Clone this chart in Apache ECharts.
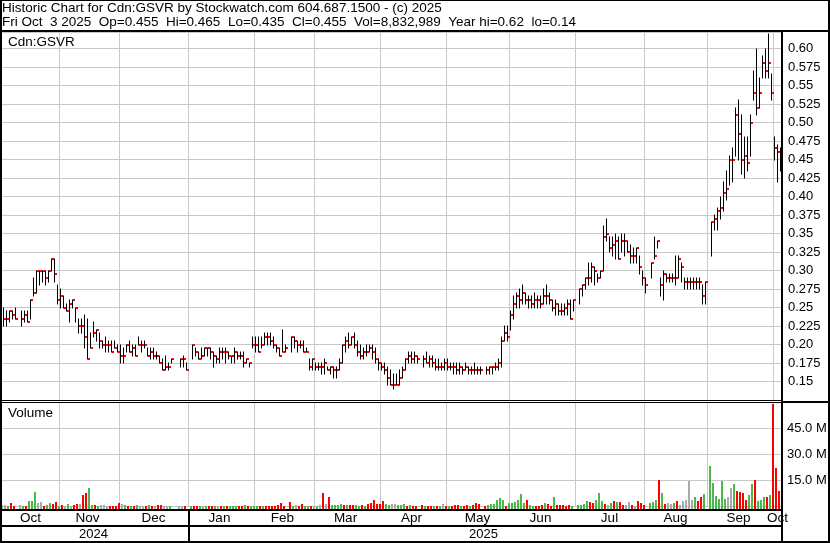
<!DOCTYPE html>
<html><head><meta charset="utf-8"><title>Cdn:GSVR</title>
<script src="https://cdn.jsdelivr.net/npm/echarts@6/dist/echarts.min.js"></script>
<style>html,body{margin:0;padding:0;background:#fff;}#chart{width:830px;height:543px;}</style>
</head><body><div id="chart"></div>
<script>
// ---------------- data (one slot per weekday, null = no trade / holiday) ----------------
const firstDate = '2024-10-07';
const lastDate  = '2025-10-03';

const highs = [
 // Oct 2024
 .25,.245,.245,.245,.25,null,.245,.245,.245,.26,.29,.30,.30,.30,.30,.30,.315,.315,.28,
 // Nov
 .275,.265,.255,.26,.26,.25,.235,.235,.24,.235,.215,.23,.22,.215,.205,.21,.205,.205,.205,.20,.20,
 // Dec
 .195,.20,.205,.20,.20,.21,.205,.205,.195,.195,.195,.19,.185,.18,.185,.175,.18,null,null,.18,.185,.175,
 // Jan 2025
 null,.20,.195,.19,.195,.195,.195,.195,.19,.185,.195,.195,.195,.19,.185,.195,.19,.19,.19,.18,.175,.21,.21,
 // Feb
 .21,.21,.215,.215,.215,.21,.20,.195,.22,.20,null,.21,.21,.205,.205,.205,.195,.18,.18,.175,
 // Mar
 .175,.175,.18,.17,.17,.17,.17,.18,.20,.21,.215,.21,.215,.205,.20,.195,.20,.20,.20,.195,.18,
 // Apr
 .175,.175,.17,.165,.16,.16,.165,.17,.18,.19,.19,.19,.185,null,.185,.19,.185,.185,.18,.18,.175,.18,
 // May
 .18,.175,.175,.175,.175,.17,.175,.17,.17,.175,.17,.17,null,.17,.17,.17,.175,.18,.21,.225,.225,.245,
 // Jun
 .265,.27,.275,.28,.27,.265,.265,.27,.265,.265,.275,.28,.27,.26,.26,.255,.255,.255,.26,.26,.26,
 // Jul
 null,.275,.28,.29,.31,.31,.305,.295,.30,.36,.37,.345,.345,.35,.345,.35,.35,.34,.335,.33,.33,.32,.30,
 // Aug
 .29,null,.31,.345,.34,.29,.30,.295,.295,.295,.32,.32,.31,.29,.29,.29,.29,.29,.29,.28,.285,
 // Sep
 null,.365,.375,.385,.40,.42,.435,.455,.465,.52,.53,.51,.48,.48,.51,.57,.60,.56,.59,.60,.62,.565,
 // Oct
 .48,.47,.465
];
const lows = [
 .225,.225,.23,.235,.235,null,.225,.23,.23,.235,.265,.27,.28,.285,.28,.285,.30,.285,.255,
 .25,.25,.245,.23,.25,.23,.215,.215,.195,.18,.195,.21,.205,.195,.195,.19,.19,.19,.195,.19,.175,
 .175,.19,.19,.185,.185,.20,.19,.195,.185,.18,.18,.18,.175,.165,.165,.165,.175,null,null,.17,.17,.165,
 null,.18,.185,.18,.18,.185,.185,.18,.17,.175,.175,.18,.175,.18,.175,.175,.18,.18,.17,.175,.17,.195,.19,
 .19,.195,.20,.20,.20,.195,.19,.185,.19,.19,null,.19,.195,.19,.195,.19,.19,.165,.165,.165,
 .165,.16,.16,.165,.16,.155,.155,.165,.175,.19,.195,.20,.195,.185,.18,.18,.185,.19,.18,.175,.165,
 .165,.16,.145,.145,.14,.145,.145,.155,.165,.175,.175,.175,.175,null,.17,.175,.17,.17,.165,.165,.165,.165,
 .165,.165,.16,.16,.16,.16,.165,.16,.16,.16,.16,.16,null,.16,.16,.16,.165,.165,.17,.205,.205,.22,
 .235,.25,.25,.255,.255,.25,.25,.25,.25,.25,.255,.255,.255,.245,.24,.24,.24,.24,.24,.235,.245,
 null,.255,.265,.275,.28,.285,.28,.285,.29,.30,.34,.325,.32,.315,.315,.325,.32,.325,.31,.31,.31,.295,.28,
 .27,null,.29,.315,.33,.265,.26,.285,.285,.285,.28,.29,.285,.275,.275,.275,.275,.275,.275,.255,.255,
 null,.32,.355,.355,.37,.38,.395,.415,.42,.455,.45,.43,.425,.435,.455,.53,.51,.52,.56,.56,.56,.53,
 .45,.42,.435
];
const closes = [
 .235,.235,.245,.24,.235,null,.235,.24,.23,.26,.27,.30,.30,.30,.29,.30,.315,.295,.26,
 .265,.25,.245,.255,.26,.25,.225,.225,.21,.18,.195,.215,.22,.205,.20,.20,.20,.19,.195,.19,.185,
 .185,.20,.19,.195,.185,.20,.20,.20,.185,.19,.185,.185,.175,.165,.17,.17,.18,null,null,.18,.18,.165,
 null,.20,.19,.18,.185,.195,.195,.19,.185,.18,.19,.19,.19,.185,.185,.19,.185,.185,.175,.18,.175,.20,.20,
 .19,.20,.21,.21,.205,.20,.195,.185,.19,.195,null,.21,.205,.20,.20,.19,.19,.17,.18,.17,
 .17,.17,.175,.165,.17,.165,.165,.175,.20,.205,.20,.21,.20,.19,.185,.19,.19,.195,.19,.18,.175,
 .17,.165,.155,.145,.145,.145,.155,.165,.18,.185,.18,.185,.18,null,.18,.175,.18,.175,.17,.17,.17,.175,
 .17,.17,.17,.165,.17,.165,.17,.165,.165,.165,.165,.165,null,.165,.17,.17,.17,.175,.205,.215,.21,.24,
 .255,.265,.26,.27,.26,.26,.255,.26,.26,.255,.265,.265,.26,.25,.255,.245,.245,.25,.255,.235,.26,
 null,.275,.28,.29,.29,.305,.30,.29,.30,.345,.35,.33,.335,.34,.315,.34,.34,.325,.32,.32,.33,.305,.29,
 .28,null,.31,.32,.34,.28,.295,.29,.29,.29,.29,.315,.305,.285,.285,.285,.285,.285,.285,.265,.285,
 null,.365,.37,.38,.385,.405,.41,.45,.45,.51,.485,.45,.455,.445,.50,.54,.52,.54,.58,.57,.58,.54,
 .465,.46,.455
];
// volume in millions of shares
const volumes = [
 0.8,0.8,0.3,2.1,0.4,null,1.1,0.3,0.4,3.0,3.0,8.4,2.1,2.7,0.3,1.1,2.1,1.7,2.7,
 0.2,0.75,0.2,1.3,0.2,0.75,1.3,1.3,6.5,7.9,10.7,0.75,0.75,0.5,1.1,0.75,0.2,0.1,0.2,0.2,2.1,
 1.3,0.75,0.2,0.2,0.1,0.75,0.1,0.1,0.1,0.75,0.2,0.2,0.75,0.75,0.2,0.2,0.1,null,null,0.1,0.1,0.1,
 null,0.2,0.1,0.1,0.1,0.2,0.1,0.2,0.1,0.2,0.2,0.2,0.1,0.2,0.1,0.3,0.2,0.3,0.2,1.1,0.3,0.3,0.3,
 0.3,0.3,0.5,0.5,0.3,0.5,0.5,0.8,2.1,0.5,null,2.7,0.3,0.8,0.3,1.3,0.5,0.5,0.3,0.5,
 0.2,0.75,7.9,1.3,5.6,0.75,0.75,1.1,1.3,0.75,1.1,0.75,0.75,1.1,0.3,0.75,0.3,1.3,2.1,3.5,1.3,
 1.3,3.0,1.3,0.8,1.3,1.3,1.1,0.8,1.3,0.5,0.8,0.3,0.3,null,0.8,0.5,0.3,0.5,0.3,0.5,0.5,1.3,
 0.3,0.5,0.5,0.8,0.8,0.5,0.5,1.1,0.5,0.8,2.2,1.3,null,0.3,0.8,1.3,1.3,3.6,5.0,3.6,0.2,2.1,
 2.1,2.7,3.6,7.0,2.1,3.6,1.1,0.3,0.2,0.3,0.8,2.1,1.3,0.2,5.3,0.8,0.8,0.8,0.3,0.8,0.3,
 null,0.75,0.75,1.5,2.9,2.5,2.1,3.5,7.9,2.9,1.7,0.75,2.1,2.9,2.7,2.7,0.75,1.1,2.7,0.75,0.3,2.9,2.1,
 0.75,null,2.1,2.7,3.6,15.2,7.9,1.7,2.1,1.7,2.1,3.0,0.75,3.0,3.6,14.8,3.6,5.6,3.0,5.6,7.0,
 null,23.4,13.6,6.1,4.2,14.6,4.2,5.6,10.7,12.7,9.0,8.4,7.9,3.6,6.5,12.7,15.2,3.0,3.6,5.6,5.6,6.9,
 59,22.3,8.83
];
// volume bar colour class per slot: g = up, r = down, n = unchanged, - = none
const volumeDirection =
 'nngrr-ngrgggnnrggrr' +
 'grngnrrnrrggrgnnnrrrr' +
 'ngrgrgnnrgrnrrnng--nnr' +
 '-grrgngrrgnrgrgggrrgrgg' +
 'grgrrrrrrr-rgnrrggrn' +
 'gnrnrggggrgrrggrgrrrr' +
 'rrggnngggrgrr-rgrrgrgn' +
 'rgrrrgrrgrrr-rggggggrg' +
 'gggggrggrrrgrrgrrrrrg' +
 '-ggggrrgggrngrgrrnnrnrr' +
 'r-gggrgrnngrnnnnngrrg' +
 '-ggggggnngrrrrggrgggrg' +
 'rrr';

const priceTickLabels = ['0.15','0.175','0.20','0.225','0.25','0.275','0.30','0.325','0.35','0.375',
  '0.40','0.425','0.45','0.475','0.50','0.525','0.55','0.575','0.60'];
const volumeTickValues = [15, 30, 45];
const volumeTickLabels = ['15.0 M', '30.0 M', '45.0 M'];
const monthNames = ['Oct','Nov','Dec','Jan','Feb','Mar','Apr','May','Jun','Jul','Aug','Sep','Oct'];
const yearNames = ['2024', '2025'];
const titleLine1 = 'Historic Chart for Cdn:GSVR by Stockwatch.com 604.687.1500 - (c) 2025';
const titleLine2 = 'Fri Oct  3 2025  Op=0.455  Hi=0.465  Lo=0.435  Cl=0.455  Vol=8,832,989  Year hi=0.62  lo=0.14';
const symbolLabel = 'Cdn:GSVR';
const volumeLabel = 'Volume';

// ---------------- build ----------------
const FONT = '"Liberation Sans", Arial, Helvetica, sans-serif';
const GRIDC = '#c8c8c8';
const dirColor = { g: '#4cb84c', r: '#ff0000', n: '#aaaaaa' };

// weekday calendar (one category per weekday)
const dates = [];
(function () {
  const d = new Date(firstDate + 'T12:00:00Z'), end = new Date(lastDate + 'T12:00:00Z');
  while (d <= end) {
    const w = d.getUTCDay();
    if (w !== 0 && w !== 6) dates.push(d.toISOString().slice(0, 10));
    d.setUTCDate(d.getUTCDate() + 1);
  }
})();

// month grid lines (weekend 1st -> previous Friday) and centred labels
const monthBounds = [0];
const yearBounds = [0];
for (let k = 1; k < dates.length; k++) {
  if (dates[k].slice(5, 7) !== dates[k - 1].slice(5, 7)) {
    const g = (+dates[k].slice(8, 10) === 1) ? k : k - 1;
    monthBounds.push(g);
    if (dates[k].slice(0, 4) !== dates[k - 1].slice(0, 4)) yearBounds.push(k);
  }
}
monthBounds.push(dates.length);
yearBounds.push(dates.length);
const gridSet = new Set(monthBounds.slice(1, -1));
const monthLabelAt = {};
for (let m = 0; m < monthBounds.length - 1; m++) {
  monthLabelAt[Math.floor((monthBounds[m] + monthBounds[m + 1] - 1) / 2)] = monthNames[m];
}
const yearLabelAt = {};
for (let m = 0; m < yearBounds.length - 1; m++) {
  yearLabelAt[Math.floor((yearBounds[m] + yearBounds[m + 1] - 1) / 2)] = yearNames[m];
}

const priceData = [], volData = [];
const dirIndex = { g: 0, r: 1, n: 2 };
const dirList = [dirColor.g, dirColor.r, dirColor.n];
for (let i = 0; i < dates.length; i++) {
  if (highs[i] != null) priceData.push([i, highs[i], lows[i], closes[i]]);
  if (volumes[i] != null) volData.push([i, volumes[i], dirIndex[volumeDirection[i]] ?? 2]);
}

const chart = echarts.init(document.getElementById('chart'), null, { renderer: 'canvas' });

const line = (x1, y1, x2, y2, w) => ({ type: 'line', silent: true, z: 100,
  shape: { x1, y1, x2, y2 }, style: { stroke: '#000', lineWidth: w } });
const txt = (x, y, s) => ({ type: 'text', silent: true, z: 100, x, y,
  style: { text: s, fill: '#000', font: '13.5px ' + FONT, align: 'left', verticalAlign: 'middle' } });

const catAxisBase = {
  type: 'category', data: dates, boundaryGap: true,
  axisLine: { show: false }, axisTick: { show: false }
};

chart.setOption({
  animation: false,
  backgroundColor: '#fff',
  grid: [
    { left: 2, top: 32, width: 780, height: 368, show: false },
    { left: 2, top: 402, width: 780, height: 104.5, show: false }
  ],
  xAxis: [
    Object.assign({}, catAxisBase, { gridIndex: 0, axisLabel: { show: false },
      splitLine: { show: true, interval: (i) => gridSet.has(i), lineStyle: { color: GRIDC, width: 1 } } }),
    Object.assign({}, catAxisBase, { gridIndex: 1, position: 'bottom',
      splitLine: { show: true, interval: (i) => gridSet.has(i), lineStyle: { color: GRIDC, width: 1 } },
      axisLabel: { show: true, interval: (i) => monthLabelAt[i] !== undefined,
        formatter: (v, i) => monthLabelAt[i] || '', margin: 4.5, color: '#000',
        fontFamily: FONT, fontSize: 13.5 } }),
    Object.assign({}, catAxisBase, { gridIndex: 1, position: 'bottom', offset: 17,
      splitLine: { show: false },
      axisLabel: { show: true, interval: (i) => yearLabelAt[i] !== undefined,
        formatter: (v, i) => yearLabelAt[i] || '', margin: 4.5, color: '#000',
        fontFamily: FONT, fontSize: 13 } })
  ],
  yAxis: [
    { type: 'value', gridIndex: 0, position: 'right', min: 0.125, max: 0.6223, interval: 0.025,
      axisLine: { show: false }, axisTick: { show: false },
      splitLine: { show: true, lineStyle: { color: GRIDC, width: 1 } },
      axisLabel: { margin: 6, color: '#000', fontFamily: FONT, fontSize: 13,
        formatter: (v) => priceTickLabels.find(t => Math.abs(parseFloat(t) - v) < 1e-6) || '' } },
    { type: 'value', gridIndex: 1, position: 'right', min: 0, max: 60.29, interval: 15,
      axisLine: { show: false }, axisTick: { show: false },
      splitLine: { show: true, lineStyle: { color: GRIDC, width: 1 } },
      axisLabel: { margin: 5, color: '#000', fontFamily: FONT, fontSize: 13,
        formatter: (v) => { const k = volumeTickValues.indexOf(Math.round(v)); return (k >= 0 && Math.abs(v - volumeTickValues[k]) < 1e-6) ? volumeTickLabels[k] : ''; } } }
  ],
  series: [
    { type: 'custom', name: 'price', xAxisIndex: 0, yAxisIndex: 0, data: priceData,
      encode: { x: 0, y: [1, 2, 3] }, clip: false,
      renderItem: (params, api) => {
        const i = api.value(0);
        const pH = api.coord([i, api.value(1)]);
        const pL = api.coord([i, api.value(2)]);
        const pC = api.coord([i, api.value(3)]);
        const x = pH[0];
        const yc = Math.round(pC[1]);
        return { type: 'group', children: [
          { type: 'rect', shape: { x: x - 0.5, y: Math.round(pH[1]) - 0.5, width: 1, height: Math.max(1, Math.round(pL[1]) - Math.round(pH[1]) + 1) },
            style: { fill: '#000' } },
          { type: 'rect', shape: { x: x + 0.5, y: yc - 1, width: 2, height: 2 }, style: { fill: '#ff0000' } }
        ] };
      } },
    { type: 'custom', name: 'volume', xAxisIndex: 1, yAxisIndex: 1, data: volData,
      encode: { x: 0, y: 1 }, clip: false,
      renderItem: (params, api) => {
        const i = api.value(0);
        const p = api.coord([i, api.value(1)]);
        const p0 = api.coord([i, 0]);
        const top = Math.round(p[1]);
        return { type: 'rect', shape: { x: p[0] - 2.5, y: top, width: 2, height: p0[1] + 2.5 - top },
          style: { fill: dirList[api.value(2)] } };
      } }
  ],
  graphic: [
    line(0, 0.5, 830, 0.5, 1),
    line(1, 0, 1, 543, 2),
    line(829, 0, 829, 543, 2),
    line(0, 542, 830, 542, 2),
    line(0, 31, 830, 31, 2),
    line(782, 31, 782, 543, 2),
    line(0, 400.5, 782, 400.5, 1),
    line(0, 402.5, 830, 402.5, 1),
    line(782, 401.5, 830, 401.5, 1),
    line(0, 510, 782, 510, 2),
    line(0, 526, 782, 526, 2),
    line(189, 510, 189, 543, 2),
    txt(2, 8.5, titleLine1),
    txt(2, 22, titleLine2),
    txt(8, 42, symbolLabel),
    txt(8, 413, volumeLabel)
  ]
});
</script>
</body></html>
